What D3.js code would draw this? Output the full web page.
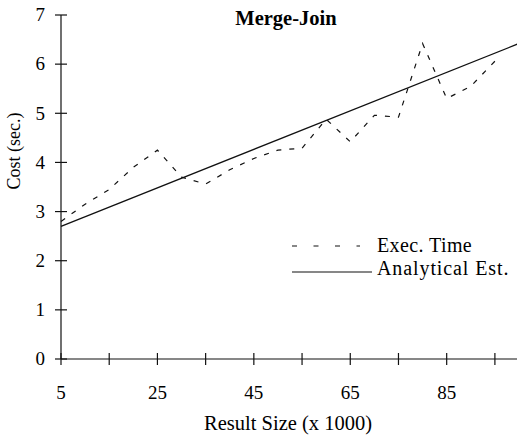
<!DOCTYPE html>
<html>
<head>
<meta charset="utf-8">
<script src="https://cdn.jsdelivr.net/npm/d3@7"></script>
<style>
  body { margin: 0; background: #fff; }
  svg { display: block; font-family: "Liberation Serif", "Times New Roman", serif; }
</style>
</head>
<body>
<svg id="chart" width="517" height="439"></svg>
<script>
// data
const resultSize = [5, 10, 15, 20, 25, 30, 35, 40, 45, 50, 55, 60, 65, 70, 75, 80, 85, 90, 95];
const execTime = [2.8, 3.15, 3.45, 3.9, 4.25, 3.7, 3.56, 3.85, 4.08, 4.25, 4.29, 4.88, 4.42, 4.96, 4.92, 6.42, 5.3, 5.55, 6.06];
const estSize = [5, 100];
const estCost = [2.7, 6.42];
const xTicks = [5, 15, 25, 35, 45, 55, 65, 75, 85, 95];
const xLabels = [5, 25, 45, 65, 85];
const yTicks = [0, 1, 2, 3, 4, 5, 6, 7];

const margin = { top: 15, left: 61, bottom: 80 };
const svg = d3.select("#chart");
const width = 517, height = 439;

const x = d3.scaleLinear().domain([5, 100]).range([margin.left, 519]);
const y = d3.scaleLinear().domain([0, 7]).range([height - margin.bottom, margin.top]);

// y axis
const yAxis = svg.append("g");
yAxis.append("line")
    .attr("x1", x(5)).attr("x2", x(5))
    .attr("y1", y(0)).attr("y2", y(7))
    .attr("stroke", "#111").attr("stroke-width", 1.2);
yAxis.selectAll("line.tick").data(yTicks).join("line")
    .attr("class", "tick")
    .attr("x1", x(5) - 6).attr("x2", x(5) + 6)
    .attr("y1", d => y(d)).attr("y2", d => y(d))
    .attr("stroke", "#111").attr("stroke-width", 1.2);
yAxis.selectAll("text").data(yTicks).join("text")
    .attr("x", x(5) - 16)
    .attr("y", d => y(d))
    .attr("dy", "0.33em")
    .attr("text-anchor", "end")
    .attr("font-size", 19)
    .text(d => d);

// x axis
const xAxis = svg.append("g");
xAxis.append("line")
    .attr("x1", x(5)).attr("x2", width)
    .attr("y1", y(0)).attr("y2", y(0))
    .attr("stroke", "#111").attr("stroke-width", 1.2);
xAxis.selectAll("line.tick").data(xTicks).join("line")
    .attr("class", "tick")
    .attr("x1", d => x(d)).attr("x2", d => x(d))
    .attr("y1", y(0) - 6).attr("y2", y(0) + 6)
    .attr("stroke", "#111").attr("stroke-width", 1.2);
xAxis.selectAll("text").data(xLabels).join("text")
    .attr("x", d => x(d))
    .attr("y", y(0) + 40)
    .attr("text-anchor", "middle")
    .attr("font-size", 19)
    .text(d => d);

// titles
svg.append("text")
    .attr("x", 286).attr("y", 25)
    .attr("text-anchor", "middle")
    .attr("font-size", 20.5)
    .attr("font-weight", "bold")
    .text("Merge-Join");

svg.append("text")
    .attr("x", 288).attr("y", 430)
    .attr("text-anchor", "middle")
    .attr("font-size", 20.5)
    .text("Result Size (x 1000)");

svg.append("text")
    .attr("transform", `translate(20,151) rotate(-90)`)
    .attr("text-anchor", "middle")
    .attr("font-size", 18)
    .text("Cost (sec.)");

// lines
const line = d3.line().x(d => x(d[0])).y(d => y(d[1]));

svg.append("path")
    .datum(d3.zip(estSize, estCost))
    .attr("fill", "none")
    .attr("stroke", "#111")
    .attr("stroke-width", 1.3)
    .attr("d", line);

svg.append("path")
    .datum(d3.zip(resultSize, execTime))
    .attr("fill", "none")
    .attr("stroke", "#111")
    .attr("stroke-width", 1.2)
    .attr("stroke-dasharray", "5,8")
    .attr("d", line);

// legend
const legend = svg.append("g").attr("font-size", 20);
legend.append("line")
    .attr("x1", 292).attr("x2", 360)
    .attr("y1", 246).attr("y2", 246)
    .attr("stroke", "#111").attr("stroke-width", 1.2)
    .attr("stroke-dasharray", "5,16.5");
legend.append("text").attr("x", 377).attr("y", 252)
    .attr("letter-spacing", 0.4).text("Exec. Time");
legend.append("line")
    .attr("x1", 292).attr("x2", 372)
    .attr("y1", 272).attr("y2", 272)
    .attr("stroke", "#111").attr("stroke-width", 1.2);
legend.append("text").attr("x", 377).attr("y", 275)
    .attr("letter-spacing", 0.9).text("Analytical Est.");
</script>
</body>
</html>
